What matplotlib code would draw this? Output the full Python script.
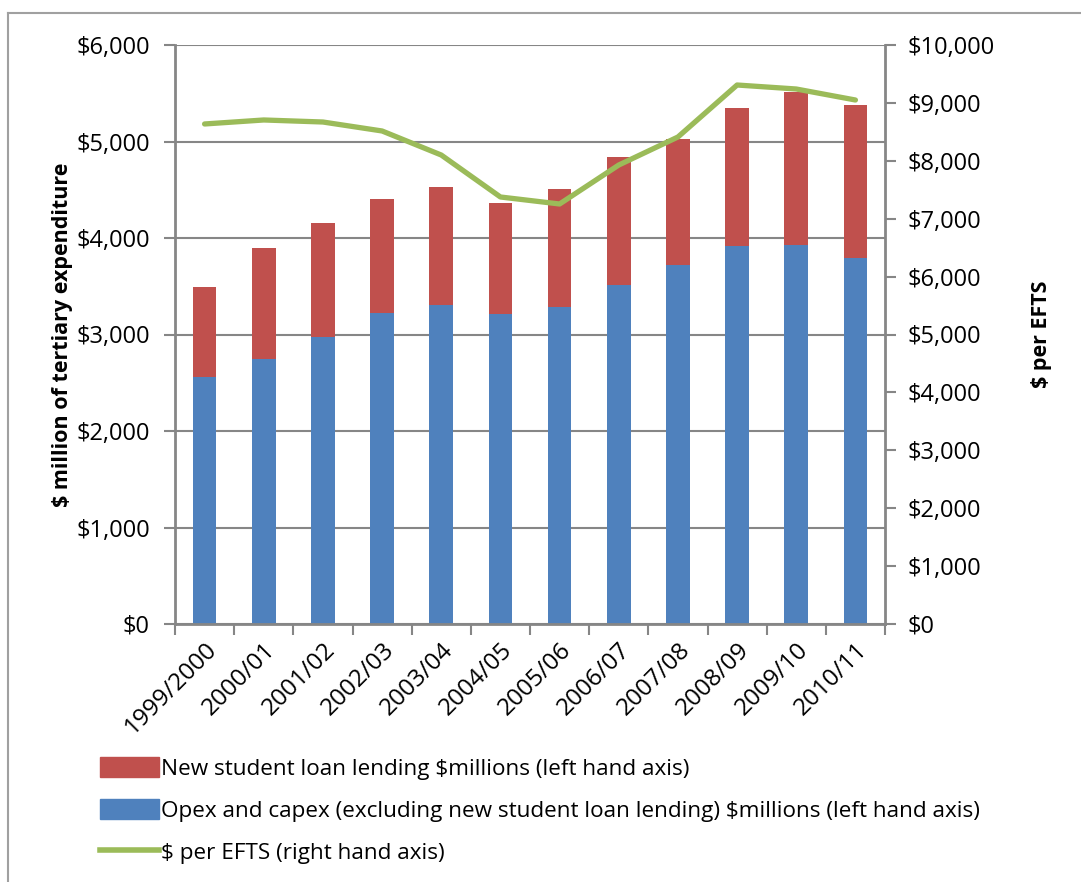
import matplotlib
matplotlib.use("Agg")
import matplotlib.pyplot as plt
from matplotlib.lines import Line2D
from matplotlib.patches import Patch
import matplotlib.ticker as mticker
import numpy as np

# data
years = ["1999/2000", "2000/01", "2001/02", "2002/03", "2003/04", "2004/05",
         "2005/06", "2006/07", "2007/08", "2008/09", "2009/10", "2010/11"]
opex_capex = [2560, 2746, 2974, 3223, 3306, 3212, 3285, 3513, 3720, 3917, 3927, 3793]
loan_lending = [932, 1150, 1181, 1181, 1222, 1151, 1223, 1326, 1306, 1430, 1586, 1585]
per_efts = [8636, 8705, 8670, 8515, 8100, 7375, 7254, 7927, 8411, 9309, 9240, 9050]

BLUE = "#4F81BD"
RED = "#C0504D"
GREEN = "#9BBB59"
AXC = "#868686"
FAM = ["Open Sans", "DejaVu Sans"]

plt.rcParams["font.family"] = FAM

fig = plt.figure(figsize=(10.81, 8.82), dpi=100)
ax = fig.add_axes([175/1081, 1-624/882, 710/1081, 579/882])
ax2 = ax.twinx()

x = np.arange(len(years))
ax.bar(x, opex_capex, width=0.4, color=BLUE, zorder=2)
ax.bar(x, loan_lending, width=0.4, bottom=opex_capex, color=RED, zorder=2)
ax2.plot(x, per_efts, color=GREEN, lw=3.8, solid_capstyle="round", zorder=3)

ax.set_xlim(-0.5, len(years)-0.5)
ax.set_ylim(0, 6000)
ax2.set_ylim(0, 10000)
ax.set_yticks(np.arange(0, 6001, 1000))
ax2.set_yticks(np.arange(0, 10001, 1000))
fmt = mticker.FuncFormatter(lambda v, p: "${:,.0f}".format(v))
ax.yaxis.set_major_formatter(fmt)
ax2.yaxis.set_major_formatter(fmt)
ax.grid(axis="y", color=AXC, lw=1.5, zorder=0)
ax.set_axisbelow(True)

for a in (ax, ax2):
    for s in a.spines.values():
        s.set_visible(False)
ax.spines["left"].set_visible(True)
ax.spines["bottom"].set_visible(True)
ax2.spines["right"].set_visible(True)
for s in (ax.spines["left"], ax.spines["bottom"], ax2.spines["right"]):
    s.set_color(AXC)
    s.set_linewidth(2)

# x ticks sit between categories
ax.set_xticks(np.arange(-0.5, len(years)), minor=False)
ax.set_xticklabels([])
ax.set_xticks(x, minor=True)
ax.set_xticklabels(years, minor=True, rotation=45, ha="right", va="top",
                   rotation_mode="anchor", fontsize=17.5)
ax.tick_params(axis="x", which="minor", length=0, pad=10)
ax.tick_params(axis="x", which="major", length=8, width=1.5, color=AXC, direction="out")
ax.tick_params(axis="y", length=8, width=1.5, color=AXC, pad=10, labelsize=17)
ax2.tick_params(axis="y", length=8, width=1.5, color=AXC, pad=8, labelsize=17)

ax.set_ylabel("$ million of tertiary expenditure", fontsize=15.5, fontweight="bold",
              labelpad=2)
ax2.set_ylabel("$ per EFTS", fontsize=15.5, fontweight="bold", labelpad=26)

handles = [Patch(color=RED), Patch(color=BLUE), Line2D([], [], color=GREEN, lw=4)]
labels = ["New student loan lending $millions (left hand axis)",
          "Opex and capex (excluding new student loan lending) $millions (left hand axis)",
          "$ per EFTS (right hand axis)"]
fig.legend(handles, labels, loc="upper left", bbox_to_anchor=(80/1081, 1-737/882),
           frameon=False, fontsize=16.2, handlelength=2.6, handleheight=1.0,
           handletextpad=0.12, labelspacing=0.85)

# chart frame (left and top edges visible)
fig.add_artist(Line2D([8/1081, 8/1081], [0, 1-13/882], color="#A0A0A0", lw=1.5))
fig.add_artist(Line2D([8/1081, 1], [1-13/882, 1-13/882], color="#A0A0A0", lw=1.5))

fig.savefig("out.png", dpi=100)
